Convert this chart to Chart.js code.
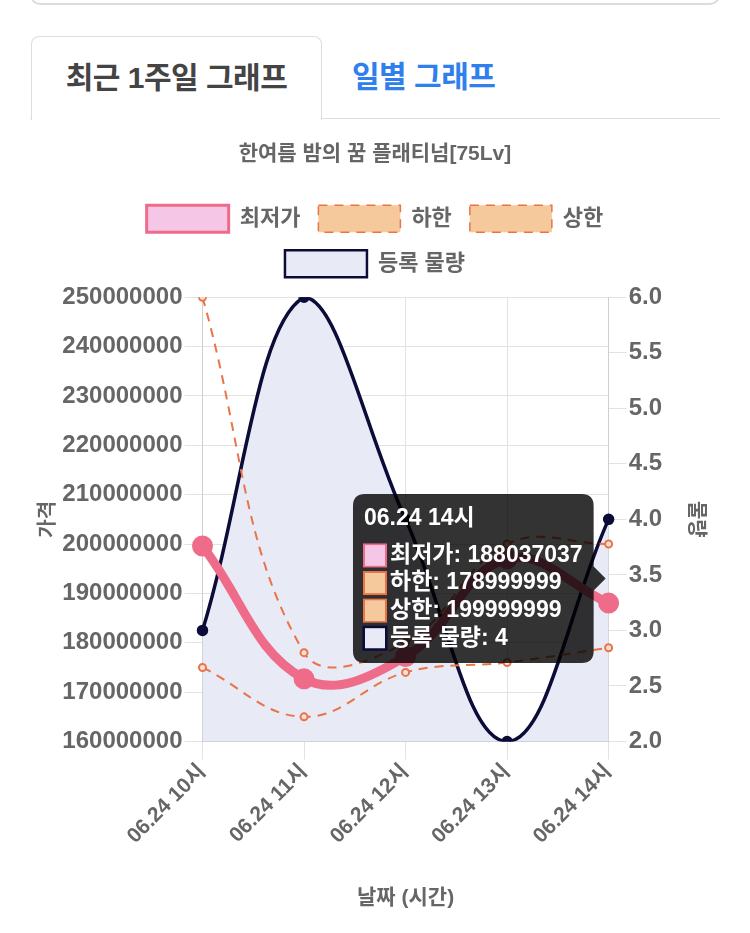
<!DOCTYPE html>
<html lang="ko">
<head>
<meta charset="utf-8">
<title>한여름 밤의 꿈 플래티넘[75Lv]</title>
<script src="https://cdn.jsdelivr.net/npm/chart.js@4.4.1/dist/chart.umd.min.js"></script>
<style>
  html, body { margin: 0; padding: 0; background: #fff; }
  body { width: 750px; height: 933px; position: relative; overflow: hidden;
         font-family: 'Liberation Sans', 'Noto Sans CJK KR', sans-serif; }
  .top-card { position: absolute; left: 30px; top: -30px; width: 686px; height: 31px;
              border: 2px solid #dcdcdc; border-radius: 10px; }
  .tabs { position: absolute; left: 30px; top: 36px; width: 690px; height: 82px;
          border-bottom: 1.5px solid #dedede; }
  .tab { position: absolute; top: 0; height: 82px; line-height: 82px; font-size: 30px;
         font-weight: bold; box-sizing: border-box; letter-spacing: -0.5px; }
  .tab.active { left: 1px; width: 291px; border: 1.5px solid #dedede; border-bottom: none;
                border-radius: 8px 8px 0 0; background: #fff; height: 84px;
                color: #444; text-align: center; }
  .tab.other { left: 322px; color: #2f7fec; }
  #wrap { position: absolute; left: 30px; top: 122px; width: 690px; height: 811px; }
</style>
</head>
<body>
<div class="top-card"></div>
<div class="tabs">
  <div class="tab active">최근 1주일 그래프</div>
  <div class="tab other">일별 그래프</div>
</div>
<div id="wrap"><canvas id="priceChart"></canvas></div>
<script>
// 시간대 라벨
const hours = ['06.24 10시', '06.24 11시', '06.24 12시', '06.24 13시', '06.24 14시'];

// 가격 (좌측 축)
const lowestPrice = [199600000, 172700000, 177200000, 197000000, 188037037];
const lowerBound = [175000000, 165000000, 174000000, 176000000, 178999999];
const upperBound = [250000000, 178000000, 180000000, 200000000, 199999999];

// 등록 물량 (우측 축)
const volume = [3, 6, 4, 2, 4];

const FONT = "'Liberation Sans', 'Noto Sans CJK KR', sans-serif";
const GREY = '#666';

const PINK = '#ee6c8a';
const ORANGE = '#e97447';
const NAVY = '#0b0d38';

// legend / tooltip box border widths differ from line widths
const legendLine = [3, 1.5, 1.5, 2.5];
const tipLine = [2, 2, 2, 3];

// a bit more room under the legend
const legendGap = {
    id: 'legendGap',
    beforeInit(chart) {
        const fit = chart.legend.fit;
        chart.legend.fit = function () {
            fit.bind(chart.legend)();
            this.height += 10;
        };
    }
};

const ctx = document.getElementById('priceChart').getContext('2d');
const chart = new Chart(ctx, {
    type: 'line',
    plugins: [legendGap],
    data: {
        labels: hours,
        datasets: [
            {
                label: '최저가', data: lowestPrice, yAxisID: 'y',
                borderColor: PINK, backgroundColor: '#f6c6e6',
                borderWidth: 9, tension: 0.4,
                pointRadius: 6, pointBackgroundColor: PINK, pointBorderColor: PINK
            },
            {
                label: '하한', data: lowerBound, yAxisID: 'y',
                borderColor: ORANGE, backgroundColor: '#f6c99c',
                borderWidth: 2, borderDash: [9, 7], tension: 0.4,
                pointRadius: 3.5, pointBorderWidth: 2, pointBackgroundColor: '#f7e3d8'
            },
            {
                label: '상한', data: upperBound, yAxisID: 'y',
                borderColor: ORANGE, backgroundColor: '#f6c99c',
                borderWidth: 2, borderDash: [9, 7], tension: 0.4,
                pointRadius: 3.5, pointBorderWidth: 2, pointBackgroundColor: '#f7e3d8'
            },
            {
                label: '등록 물량', data: volume, yAxisID: 'y1',
                borderColor: NAVY, backgroundColor: '#e8eaf6',
                borderWidth: 3.5, tension: 0.4, fill: 'origin',
                pointRadius: 4, pointBackgroundColor: NAVY
            }
        ]
    },
    options: {
        responsive: true,
        maintainAspectRatio: false,
        animation: false,
        interaction: { mode: 'index', intersect: false },
        plugins: {
            title: {
                display: true, text: '한여름 밤의 꿈 플래티넘[75Lv]', color: GREY,
                font: { family: FONT, size: 21, weight: 'bold' },
                padding: { top: 20, bottom: 20 }
            },
            legend: {
                labels: {
                    color: GREY, boxWidth: 82, boxHeight: 27, padding: 18,
                    font: { family: FONT, size: 22, weight: 'bold' },
                    generateLabels: (c) => Chart.defaults.plugins.legend.labels.generateLabels(c)
                        .map(l => ({ ...l, lineWidth: legendLine[l.datasetIndex] }))
                }
            },
            tooltip: {
                backgroundColor: 'rgba(0,0,0,0.8)',
                titleFont: { family: FONT, size: 23, weight: 'bold' },
                bodyFont: { family: FONT, size: 23, weight: 'bold' },
                titleMarginBottom: 9, bodySpacing: 0, padding: 11,
                caretSize: 12, caretPadding: 3, cornerRadius: 12,
                boxWidth: 22, boxHeight: 22, boxPadding: 2,
                callbacks: {
                    label: (c) => `${c.dataset.label}: ${c.raw}`,
                    labelColor: (c) => ({
                        borderColor: c.dataset.borderColor,
                        backgroundColor: c.dataset.backgroundColor,
                        borderWidth: tipLine[c.datasetIndex],
                        borderDash: []
                    })
                }
            }
        },
        scales: {
            x: {
                grid: { color: '#e2e2e2', tickLength: 18 },
                border: { color: '#cfcfcf' },
                ticks: {
                    color: GREY, maxRotation: 45, minRotation: 45, padding: 0,
                    font: { family: FONT, size: 21, weight: 'bold' }
                },
                title: {
                    display: true, text: '날짜 (시간)', color: GREY,
                    font: { family: FONT, size: 21, weight: 'bold' },
                    padding: { top: 37, bottom: 22 }
                }
            },
            y: {
                position: 'left', min: 160000000, max: 250000000,
                grid: { color: '#e2e2e2', tickLength: 18 },
                border: { color: '#cfcfcf' },
                ticks: {
                    color: GREY, stepSize: 10000000, padding: 2,
                    font: { family: FONT, size: 24, weight: 'bold' },
                    callback: (v) => String(v)
                },
                title: {
                    display: true, text: '가격', color: GREY,
                    font: { family: FONT, size: 20, weight: 'bold' },
                    padding: { top: 6, bottom: 1 }
                }
            },
            y1: {
                position: 'right', min: 2, max: 6,
                grid: { drawOnChartArea: false, drawTicks: true, color: '#e2e2e2', tickLength: 18 },
                border: { color: '#cfcfcf' },
                ticks: {
                    color: GREY, stepSize: 0.5, padding: 2,
                    font: { family: FONT, size: 24, weight: 'bold' },
                    callback: (v) => v.toFixed(1)
                },
                title: {
                    display: true, text: '물량', color: GREY,
                    font: { family: FONT, size: 20, weight: 'bold' },
                    padding: { top: 12, bottom: 20 }
                }
            }
        }
    }
});

// 마지막 시간대 툴팁 표시
chart.tooltip.setActiveElements(
    chart.data.datasets.map((d, i) => ({ datasetIndex: i, index: hours.length - 1 })),
    { x: 0, y: 0 }
);
chart.update();
</script>
</body>
</html>
